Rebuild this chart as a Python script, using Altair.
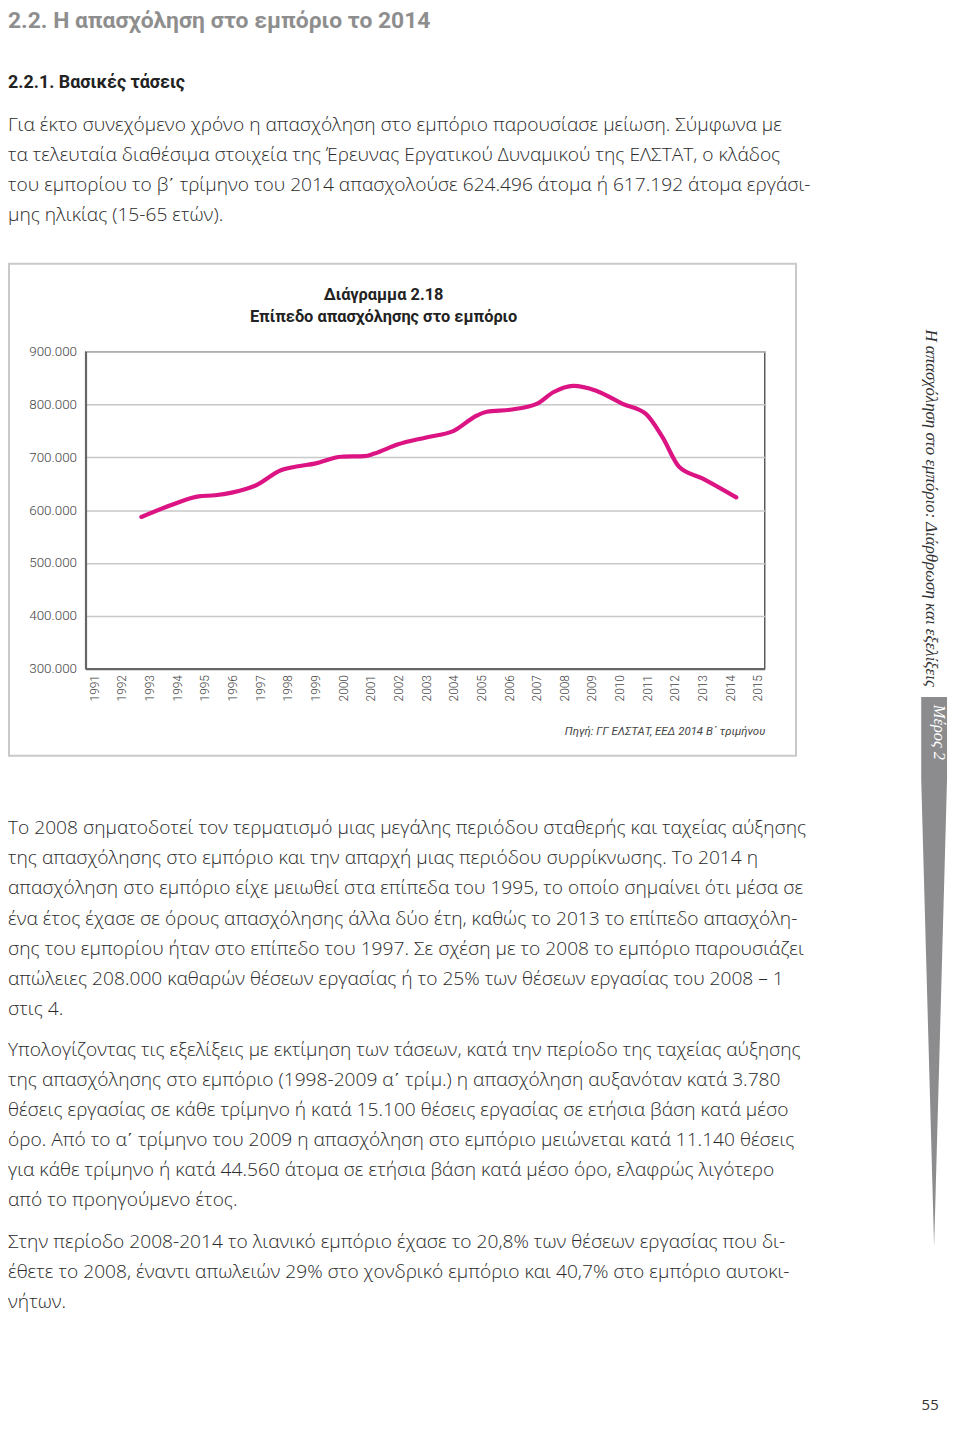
import altair as alt
import pandas as pd

# ---------------- data ----------------
years = [1992.70, 1993.81, 1994.77, 1995.37, 1995.97, 1996.81, 1997.77, 1998.37,
         1998.97, 1999.93, 2000.77, 2001.13, 2001.96, 2003.04, 2004.00, 2004.84,
         2005.20, 2006.04, 2007.00, 2007.60, 2008.32, 2009.15, 2010.11, 2010.95,
         2011.55, 2012.15, 2012.99, 2014.22]
employment = [587000, 610000, 626000, 628000, 633000, 646000, 676000, 683000,
              688000, 701000, 702000, 707000, 724000, 738000, 750000, 779000,
              786000, 790000, 801000, 823000, 835000, 826000, 801000, 782000,
              738000, 682000, 660000, 624000]
year_ticks = list(range(1991, 2016))
value_ticks = [300000, 400000, 500000, 600000, 700000, 800000, 900000]

# ---------------- page text ----------------
K = "\u0374"  # Greek numeral sign (keraia)
page_title = "2.2. Η απασχόληση στο εμπόριο το 2014"
section_title = "2.2.1. Βασικές τάσεις"
para1 = [
    "Για έκτο συνεχόμενο χρόνο η απασχόληση στο εμπόριο παρουσίασε μείωση. Σύμφωνα με",
    "τα τελευταία διαθέσιμα στοιχεία της Έρευνας Εργατικού Δυναμικού της ΕΛΣΤΑΤ, ο κλάδος",
    "του εμπορίου το β" + K + " τρίμηνο του 2014 απασχολούσε 624.496 άτομα ή 617.192 άτομα εργάσι-",
    "μης ηλικίας (15-65 ετών).",
]
para2 = [
    "Το 2008 σηματοδοτεί τον τερματισμό μιας μεγάλης περιόδου σταθερής και ταχείας αύξησης",
    "της απασχόλησης στο εμπόριο και την απαρχή μιας περιόδου συρρίκνωσης. Το 2014 η",
    "απασχόληση στο εμπόριο είχε μειωθεί στα επίπεδα του 1995, το οποίο σημαίνει ότι μέσα σε",
    "ένα έτος έχασε σε όρους απασχόλησης άλλα δύο έτη, καθώς το 2013 το επίπεδο απασχόλη-",
    "σης του εμπορίου ήταν στο επίπεδο του 1997. Σε σχέση με το 2008 το εμπόριο παρουσιάζει",
    "απώλειες 208.000 καθαρών θέσεων εργασίας ή το 25% των θέσεων εργασίας του 2008 – 1",
    "στις 4.",
]
para3 = [
    "Υπολογίζοντας τις εξελίξεις με εκτίμηση των τάσεων, κατά την περίοδο της ταχείας αύξησης",
    "της απασχόλησης στο εμπόριο (1998-2009 α" + K + " τρίμ.) η απασχόληση αυξανόταν κατά 3.780",
    "θέσεις εργασίας σε κάθε τρίμηνο ή κατά 15.100 θέσεις εργασίας σε ετήσια βάση κατά μέσο",
    "όρο. Από το α" + K + " τρίμηνο του 2009 η απασχόληση στο εμπόριο μειώνεται κατά 11.140 θέσεις",
    "για κάθε τρίμηνο ή κατά 44.560 άτομα σε ετήσια βάση κατά μέσο όρο, ελαφρώς λιγότερο",
    "από το προηγούμενο έτος.",
]
para4 = [
    "Στην περίοδο 2008-2014 το λιανικό εμπόριο έχασε το 20,8% των θέσεων εργασίας που δι-",
    "έθετε το 2008, έναντι απωλειών 29% στο χονδρικό εμπόριο και 40,7% στο εμπόριο αυτοκι-",
    "νήτων.",
]
chart_title = ["Διάγραμμα 2.18", "Επίπεδο απασχόλησης στο εμπόριο"]
source_note = "Πηγή: ΓΓ ΕΛΣΤΑΤ, ΕΕΔ 2014 Β" + K + " τριμήνου"
side_text = "Η απασχόληση στο εμπόριο: Διάρθρωση και εξελίξεις"
part_label = "Μέρος 2"
page_number = "55"

# ---------------- layout (page pixel coordinates) ----------------
OX, OY = 86.0, 349.3          # top-left of the plot area on the page
PW, PH = 683.3, 319.0         # plot area size
SVG_W, SVG_H = 950, 1408

BODY_FONT = "Open Sans"
HEAD_FONT = "Roboto"
SERIF = "Liberation Serif"

df = pd.DataFrame({"year": years, "employment": employment})
dummy = pd.DataFrame({"k": [0]})


def txt(lines, x, y, size, weight="normal", color="#333333", font=BODY_FONT,
        align="left", baseline="alphabetic", style="normal", angle=None, lh=30.3):
    kw = dict(align=align, baseline=baseline, fontSize=size, fontWeight=weight,
              color=color, font=font, fontStyle=style, lineHeight=lh)
    if angle is not None:
        kw["angle"] = angle
    return alt.Chart(dummy).mark_text(**kw).encode(
        x=alt.value(x - OX), y=alt.value(y - OY), text=alt.value(lines))


line = alt.Chart(df).mark_line(
    interpolate="monotone", color="#dc1483", strokeWidth=4.2, strokeCap="round"
).encode(
    x=alt.X("year:Q",
            scale=alt.Scale(domain=[1990.68, 2015.24], nice=False, zero=False),
            axis=alt.Axis(values=year_ticks, format="d", labelAngle=270, grid=False,
                          ticks=False, domainColor="#666666", domainWidth=2.2,
                          labelFont=HEAD_FONT, labelFontWeight=300, labelFontSize=12,
                          labelColor="#444444", labelPadding=6, title=None)),
    y=alt.Y("employment:Q",
            scale=alt.Scale(domain=[300000, 900000], nice=False, zero=False),
            axis=alt.Axis(values=value_ticks, ticks=False, grid=True,
                          gridColor="#c8c8c8", gridWidth=1.5,
                          domainColor="#666666", domainWidth=2.2,
                          labelExpr="replace(format(datum.value, ','), ',', '.')",
                          labelFont=HEAD_FONT, labelFontWeight=300, labelFontSize=13.5,
                          labelColor="#444444", labelPadding=9, title=None)),
)

chart_box = alt.Chart(dummy).mark_rect(
    fill=None, stroke="#c9c9c9", strokeWidth=2
).encode(x=alt.value(9 - OX), x2=alt.value(801 - OX),
         y=alt.value(261 - OY), y2=alt.value(756 - OY))

# grey side tab that tapers to a point
tab_path = "M-0.047,-1 L0.047,-1 L0.047,-0.70 L0,1 L-0.047,-0.70 Z"
side_tab = alt.Chart(dummy).mark_point(
    shape=tab_path, filled=True, fill="#8c8c8e", opacity=1, strokeWidth=0
).encode(x=alt.value(940 - OX), y=alt.value(973.5 - OY),
         size=alt.value(553 ** 2))

layers = [
    chart_box,
    line,
    txt(page_title, 8, 24, 23, weight="bold", color="#8e8e8e", font=HEAD_FONT),
    txt(section_title, 8, 84, 18, weight="bold", color="#222222", font=HEAD_FONT),
    txt(para1, 8, 127, 19.3, weight=300, color="#2a2a2a"),
    txt(para2, 8, 835, 19.3, weight=300, color="#2a2a2a"),
    txt(para3, 8, 1058, 19.3, weight=300, color="#2a2a2a"),
    txt(para4, 8, 1251.7, 19.3, weight=300, color="#2a2a2a"),
    txt(chart_title, 386, 297, 16.5, weight="bold", color="#222222", font=HEAD_FONT,
        align="center", lh=23),
    txt(source_note, 770, 735, 11.5, style="italic", color="#444444", font=HEAD_FONT,
        align="right"),
    side_tab,
    txt(side_text, 937, 327, 17, style="italic", color="#333333", font=SERIF,
        baseline="middle", angle=90),
    txt(part_label, 945, 732.5, 16.5, style="italic", color="#ffffff", font=SERIF,
        align="center", baseline="middle", angle=90),
    txt(page_number, 936, 1414, 15, color="#333333", font="Open Sans",
        align="center"),
]

chart = alt.layer(*layers).properties(
    width=PW, height=PH,
    autosize=alt.AutoSizeParams(type="none"),
    padding={"left": OX - 8, "top": OY - 8,
             "right": SVG_W - (OX - 8) - PW, "bottom": SVG_H - (OY - 8) - PH},
    background="white",
).configure_view(stroke="#333333", strokeWidth=1.2)

chart.save("out.html", embed_options={"renderer": "svg", "actions": False})
